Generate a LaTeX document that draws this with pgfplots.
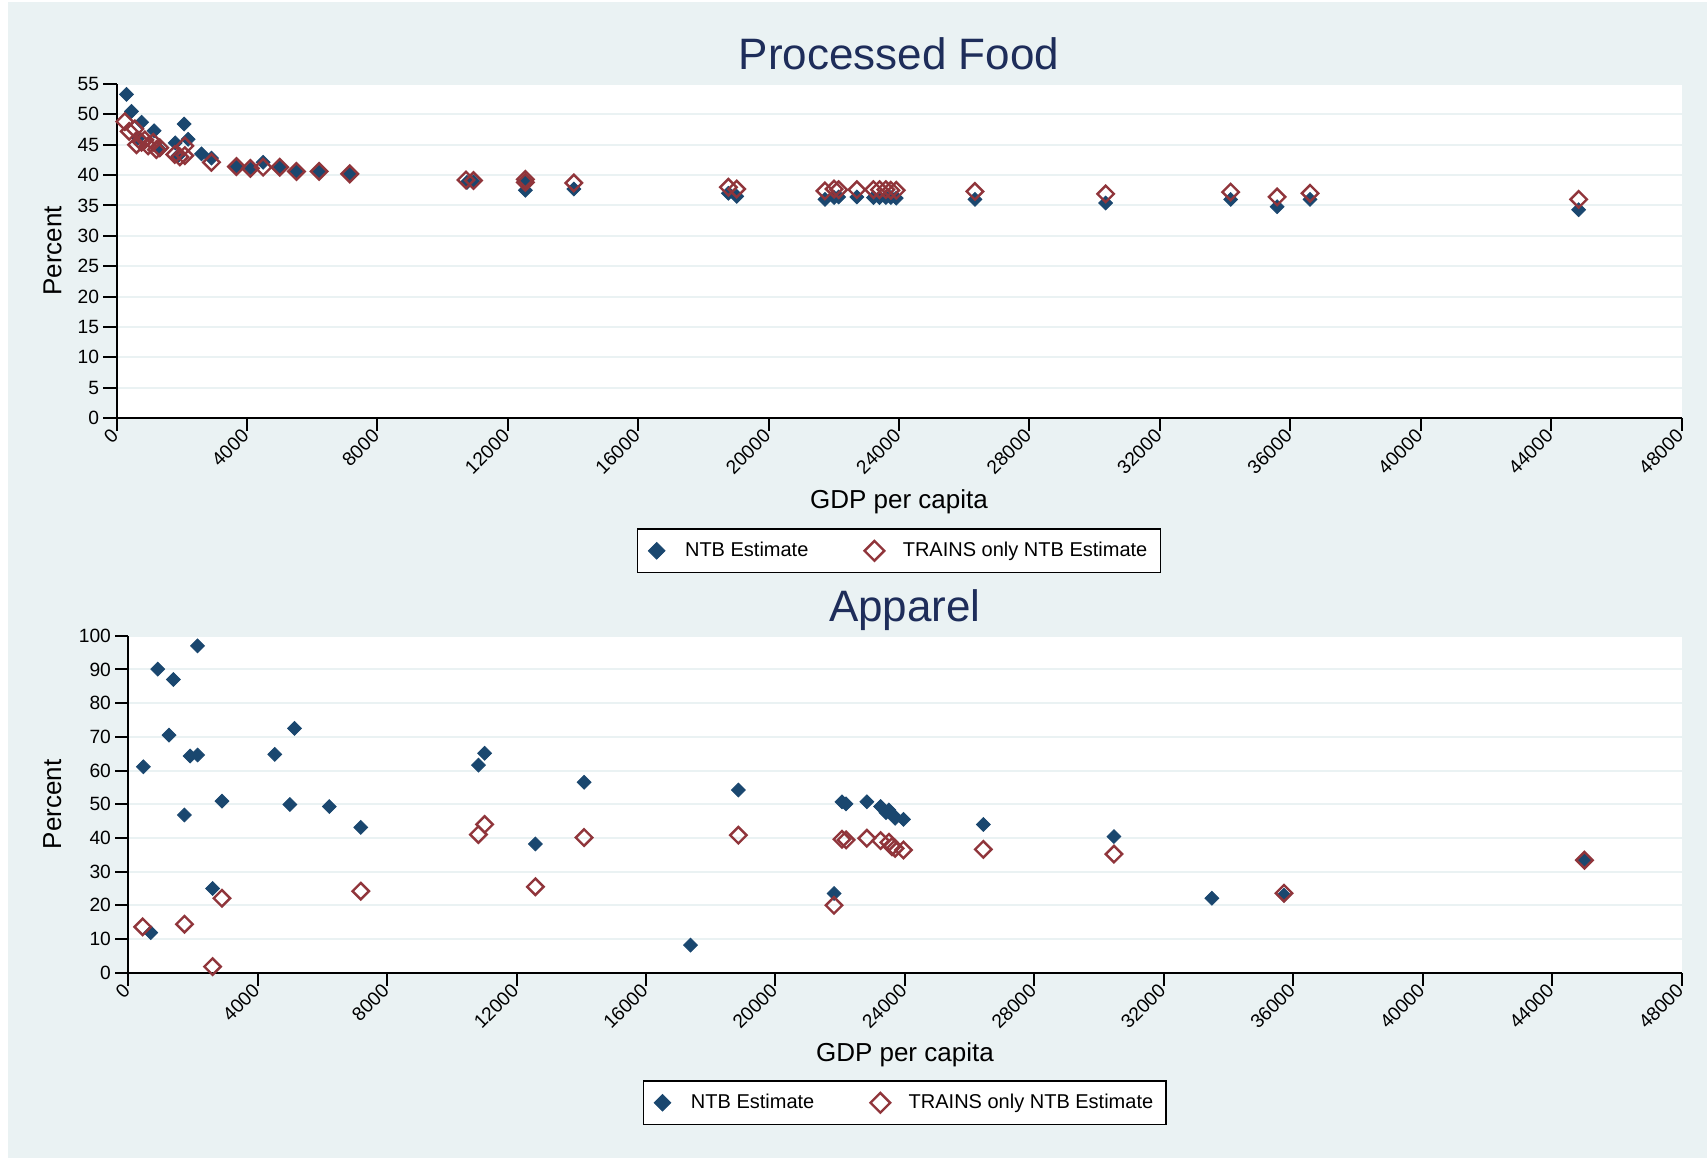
\documentclass[border=0pt]{standalone}
\usepackage{fontspec}
\setmainfont{Liberation Sans}
\usepackage{pgfplots}
\pgfplotsset{compat=1.18}

\definecolor{bgcol}{RGB}{234,242,243}
\definecolor{gridcol}{RGB}{234,242,243}
\definecolor{navy}{RGB}{26,71,111}
\definecolor{maroon}{RGB}{144,53,59}
\definecolor{titlecol}{RGB}{30,45,90}

\pgfplotsset{
  stata/.style={
    scale only axis, anchor=south west,
    axis background/.style={fill=white},
    axis x line*=bottom, axis y line*=left,
    axis line style={black, line width=1pt},
    tick style={black, line width=1pt},
    tick align=outside, major tick length=6.5pt,
    xmin=0, xmax=48000, xtick={0,4000,...,48000},
    scaled x ticks=false,
    ymajorgrids, grid style={gridcol, line width=1pt},
    /pgf/number format/assume math mode=true,
    /pgf/number format/1000 sep={},
    ticklabel style={font=\fontsize{9.6}{11}\selectfont},
    xticklabel style={rotate=45, anchor=east, inner sep=1pt},
    yticklabel style={inner sep=2pt},
    title style={font=\fontsize{22}{26}\selectfont, color=titlecol, anchor=base, yshift=-6pt},
    xlabel style={font=\fontsize{13}{15}\selectfont, anchor=base},
    ylabel style={font=\fontsize{13}{15}\selectfont, anchor=center},
    legend columns=2,
    legend style={draw=black, line width=0.8pt, fill=white, anchor=center,
      font=\fontsize{10}{12}\selectfont, inner xsep=4.5pt, inner ysep=4.4pt,
      /tikz/every odd column/.append style={column sep=7.2pt},
      /tikz/every even column/.append style={column sep=26pt},
      /tikz/column 3/.append style={column sep=9.5pt}},
    legend image code/.code={\path[draw=none, fill=none] (-5pt,-5pt) rectangle (5pt,5pt);
      \draw[##1, every mark/.append style={scale=1.2}] plot coordinates {(0pt,0pt)};},
  },
  ntb/.style={only marks, mark=square*, mark size=2.45pt,
    mark options={rotate=45, fill=navy, draw=navy, line width=0.4pt}},
  trains/.style={only marks, mark=square, mark size=2.9pt,
    mark options={rotate=45, draw=maroon, line width=1.2pt}},
}

\begin{document}
\begin{tikzpicture}
\path[use as bounding box, fill=white] (0,0) rectangle (853.5pt,579pt);
\fill[bgcol] (3.8pt,0) rectangle (853.5pt,578pt);

% Processed Food
\begin{axis}[stata,
  at={(58.25pt,370pt)}, width=782.5pt, height=167pt,
  ymin=0, ymax=55, ytick={0,5,...,55},
  title={Processed Food}, title style={at={(0.5,1.044)}},
  xlabel={GDP per capita}, xlabel style={at={(axis description cs:0.5,-0.2713)}},
  ylabel={Percent}, ylabel style={at={(axis description cs:-0.0409,0.5)}},
  legend style={at={(0.5,-0.3976)}},
]
\addplot[ntb] coordinates {
 (307,53.3) (460,50.5) (664,46.1) (767,48.7) (1155,47.3) (1329,44.2)
 (1800,45.3) (1890,43.2) (2075,48.4) (2197,45.9) (2606,43.5) (2913,42.8)
 (3679,41.4) (4139,41.1) (4497,42.1) (5008,41.3) (5519,40.6) (6214,40.6)
 (7154,40.2) (10750,38.8) (10950,38.9) (12540,38.9) (12540,37.5) (14027,37.7)
 (18767,37.0) (19021,36.5) (21729,36.0) (22008,36.3) (22150,36.4) (22707,36.4)
 (23216,36.3) (23403,36.3) (23596,36.3) (23750,36.3) (23915,36.2) (26328,36.0)
 (30338,35.4) (34171,36.0) (35597,34.8) (36608,36.0) (44846,34.3)
};
\addplot[trains] coordinates {
 (256,48.8) (388,47.2) (562,47.6) (613,45.0) (767,45.4) (869,45.8)
 (971,44.8) (1124,45.4) (1226,44.2) (1329,44.5) (1789,43.4) (1942,43.0)
 (2095,44.8) (2095,43.2) (2913,42.1) (3679,41.4) (4108,41.1) (4497,41.3)
 (5008,41.3) (5519,40.6) (6214,40.6) (7154,40.2) (10720,39.2) (10950,39.1)
 (12540,39.3) (12540,38.8) (14027,38.7) (18767,38.0) (19021,37.7) (21729,37.4)
 (22008,37.7) (22150,37.6) (22707,37.6) (23216,37.6) (23403,37.6) (23596,37.6)
 (23750,37.5) (23915,37.5) (26328,37.3) (30338,36.9) (34171,37.2) (35597,36.4)
 (36608,37.0) (44846,36.0)
};
\legend{NTB Estimate, TRAINS only NTB Estimate}
\end{axis}

% Apparel
\begin{axis}[stata,
  at={(64.15pt,92.65pt)}, width=776.6pt, height=168.5pt,
  ymin=0, ymax=100, ytick={0,10,...,100},
  title={Apparel}, title style={at={(0.5,1.0436)}},
  xlabel={GDP per capita}, xlabel style={at={(axis description cs:0.5,-0.2641)}},
  ylabel={Percent}, ylabel style={at={(axis description cs:-0.0489,0.5)}},
  legend style={at={(0.5,-0.386)}},
]
\addplot[ntb] coordinates {
 (465,61.1) (693,11.9) (910,90.1) (1261,70.5) (1395,87.0) (1736,46.8)
 (1912,64.3) (2140,64.6) (2140,97.0) (2605,25.0) (2894,50.9) (4527,64.8)
 (4992,49.9) (5137,72.5) (6212,49.3) (7184,43.1) (10820,61.6) (11012,65.1)
 (12581,38.2) (14085,56.5) (17375,8.2) (18854,54.2) (21810,23.5) (22054,50.7)
 (22182,50.1) (22824,50.7) (23248,49.3) (23416,47.5) (23505,48.3) (23636,46.8)
 (23698,45.8) (23955,45.5) (26424,44.0) (30460,40.4) (33488,22.1) (35715,23.0)
 (45001,33.4)
};
\addplot[trains] coordinates {
 (444,13.6) (1736,14.4) (2605,1.8) (2894,22.1) (7184,24.2) (10820,41.0)
 (11012,44.0) (12581,25.5) (14085,40.1) (18854,40.8) (21810,20.0) (22054,39.6)
 (22182,39.4) (22824,39.9) (23248,39.2) (23505,38.7) (23600,37.4) (23698,36.9)
 (23955,36.4) (26424,36.6) (30460,35.2) (35715,23.6) (45001,33.4)
};
\legend{NTB Estimate, TRAINS only NTB Estimate}
\end{axis}
\end{tikzpicture}
\end{document}
